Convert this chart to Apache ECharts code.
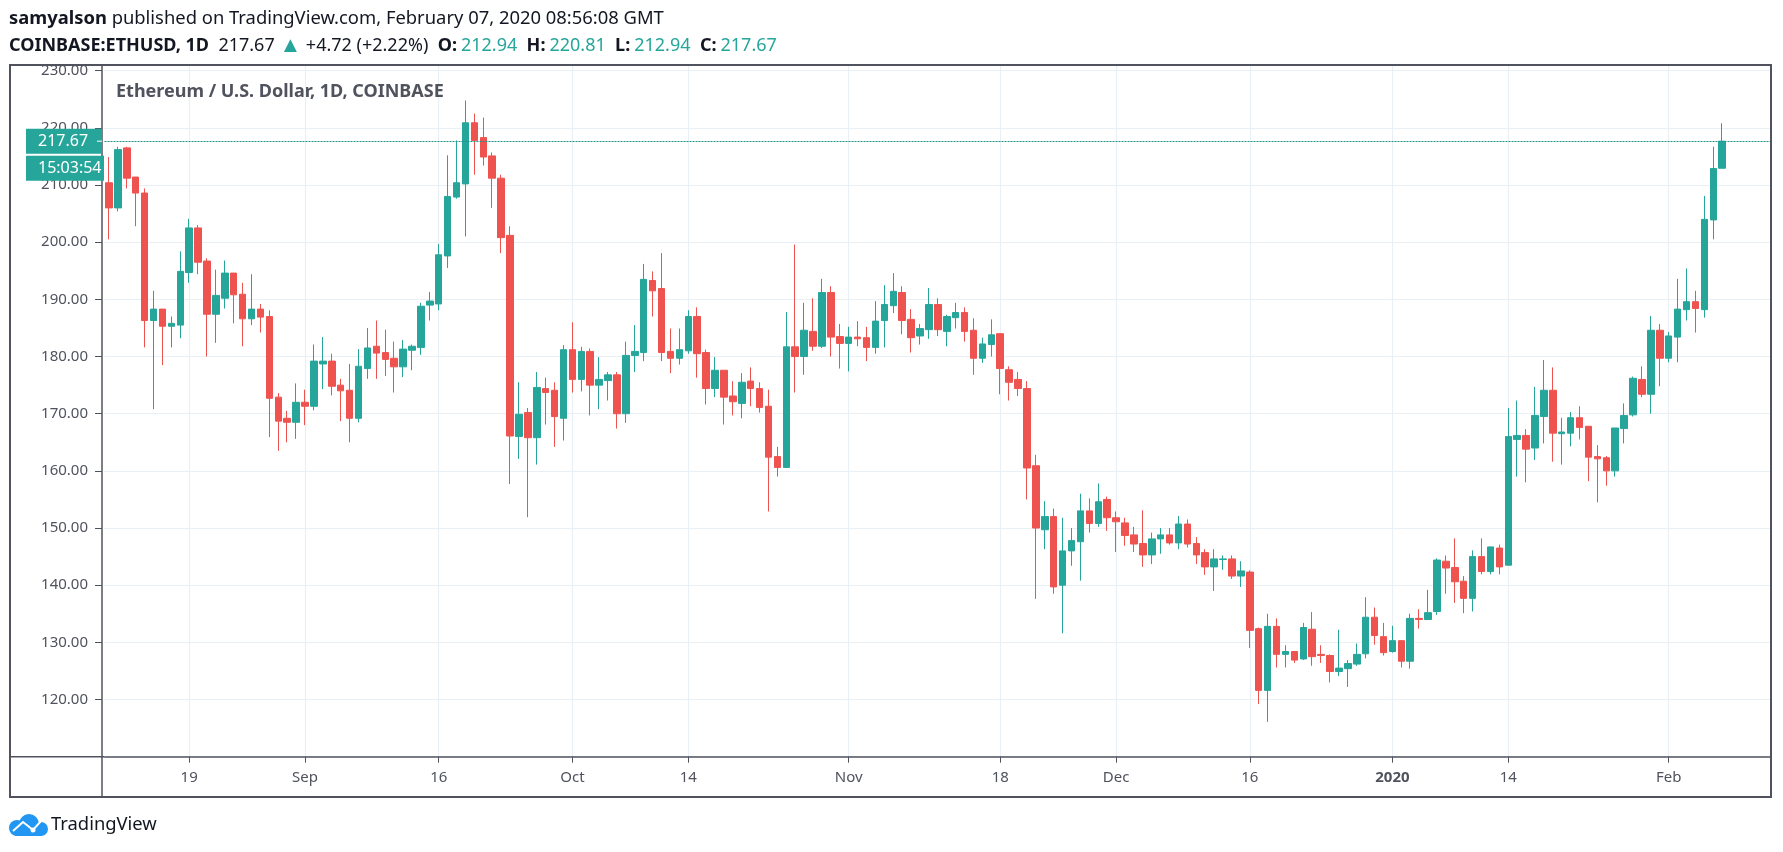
<!DOCTYPE html>
<html>
<head>
<meta charset="utf-8">
<title>ETHUSD</title>
<style>
  html, body { margin: 0; padding: 0; background: #fff; }
  #main { width: 1783px; height: 852px; }
</style>
<script src="https://cdn.jsdelivr.net/npm/echarts@6/dist/echarts.min.js"></script>
</head>
<body>
<div id="main"></div>
<script>
// daily candles, 2019-08-10 to 2020-02-07
var firstDay = '2019-08-10';
var opens = [
  210.4,206.0,216.5,211.4,208.6,186.3,188.3,185.3,185.5,194.7,
  202.5,196.7,187.4,190.2,194.6,190.9,186.6,188.3,187.0,172.9,
  169.2,168.5,172.0,171.3,178.7,179.2,175.0,174.1,169.2,177.9,
  181.8,180.7,179.7,178.2,181.1,181.6,189.0,189.2,197.6,207.9,
  210.2,220.9,218.3,215.1,211.2,201.2,166.0,170.2,165.8,174.4,
  174.1,169.2,181.2,176.0,180.9,175.0,175.8,176.8,170.0,180.2,
  180.7,193.3,191.9,180.9,179.7,181.0,187.0,180.7,174.4,177.6,
  173.1,171.8,175.7,174.4,171.3,162.5,160.6,181.7,180.0,184.4,
  181.8,191.2,183.5,182.3,183.4,183.3,181.6,186.3,188.9,191.2,
  186.5,183.6,184.7,189.1,184.4,186.8,187.7,184.6,179.7,182.1,
  184.0,177.7,176.0,174.4,160.9,149.7,152.0,140.0,146.0,147.6,
  153.0,150.8,155.0,151.8,150.9,148.8,147.3,145.3,148.1,148.8,
  147.4,150.7,147.3,145.7,143.2,144.5,144.6,141.6,142.3,132.4,
  121.6,132.8,127.9,128.4,127.1,132.3,127.9,127.7,124.9,125.4,
  126.2,128.0,134.4,131.0,128.4,130.3,126.7,134.2,134.0,135.4,
  144.2,143.1,140.7,137.7,145.0,142.4,146.5,143.5,165.5,166.2,
  164.0,169.5,174.1,166.5,166.6,169.3,167.8,162.5,162.3,160.0,
  167.4,169.8,176.0,173.4,184.6,179.7,183.4,188.2,189.6,188.2,
  203.9,212.94
];
var closes = [
  206.0,216.2,211.2,208.6,186.3,188.3,185.3,185.8,194.9,202.5,
  196.5,187.4,190.7,194.6,190.8,186.6,188.3,186.9,172.7,168.7,
  168.5,172.0,171.3,179.2,179.2,174.8,174.0,169.2,178.3,181.5,
  180.6,179.5,178.2,181.3,181.8,188.8,189.7,197.8,208.0,210.4,
  220.9,217.8,214.9,211.2,200.8,166.1,169.9,165.8,174.6,173.7,
  169.5,181.2,176.0,180.9,175.0,176.0,176.8,170.0,180.2,180.9,
  193.5,191.5,180.7,179.7,181.2,187.0,180.5,174.4,177.6,172.9,
  172.1,175.5,174.4,171.1,162.4,160.6,181.7,180.0,184.6,181.8,
  191.2,183.4,182.3,183.4,183.1,181.6,186.2,189.1,191.4,186.3,
  183.3,184.9,189.1,184.7,187.0,187.7,184.4,179.7,182.2,183.8,
  177.9,175.5,174.4,160.5,150.0,152.0,139.7,146.0,147.8,153.0,
  150.8,154.6,151.8,151.1,148.7,147.2,145.3,148.1,148.8,147.4,
  150.7,147.2,145.3,143.2,144.6,144.6,141.6,142.5,132.1,121.6,
  132.8,127.9,128.4,126.9,132.6,127.5,127.7,124.9,125.5,126.3,
  127.9,134.4,131.2,128.2,130.3,126.7,134.2,134.0,135.2,144.4,
  143.0,140.6,137.7,145.0,142.4,146.7,143.2,166.0,166.2,163.8,
  169.7,174.1,166.6,166.8,169.3,167.6,162.4,162.1,160.0,167.5,
  169.7,176.2,173.4,184.6,179.7,183.6,188.3,189.6,188.4,204.0,
  212.9,217.67
];
var lows = [
  200.5,205.4,209.4,202.8,181.6,170.8,178.5,181.6,183.2,192.9,
  194.4,180.0,182.4,188.4,185.8,181.8,185.5,184.2,165.9,163.5,
  165.0,165.6,168.0,170.6,174.3,173.2,168.7,165.0,168.5,176.1,
  176.1,176.6,173.7,176.4,177.6,180.3,186.3,188.1,195.5,207.6,
  201.0,211.8,213.4,206.0,198.1,157.7,162.1,151.9,161.1,168.1,
  164.2,165.3,173.7,173.9,169.7,170.8,172.3,167.4,168.4,177.3,
  179.2,187.0,179.2,177.1,178.6,180.5,176.3,171.6,172.9,168.1,
  169.7,169.2,171.3,170.2,152.9,159.0,160.6,173.7,176.8,181.0,
  181.5,180.0,177.9,177.4,181.8,179.2,180.5,181.6,187.6,183.9,
  180.7,182.1,183.1,183.6,181.8,184.9,182.6,176.8,178.9,180.0,
  173.4,172.3,173.1,155.0,137.6,146.3,138.5,131.6,143.4,140.8,
  149.2,150.2,149.5,145.8,146.9,145.8,143.2,143.7,145.5,147.1,
  146.3,146.6,143.7,141.8,139.0,142.7,141.1,139.7,129.0,119.2,
  116.1,125.6,125.6,126.4,126.9,125.9,126.4,123.0,124.1,122.2,
  125.9,127.2,129.6,127.7,128.2,125.6,125.4,132.4,134.0,134.8,
  138.5,136.9,135.1,135.4,141.9,141.9,141.9,143.5,159.0,158.0,
  161.9,164.8,161.6,161.1,164.3,165.5,158.2,154.5,157.4,159.0,
  164.8,169.5,172.9,170.0,174.8,179.0,179.0,186.3,184.2,186.8,
  200.5,212.94
];
var highs = [
  214.9,216.7,216.7,211.4,209.4,191.5,188.3,187.0,198.4,204.1,
  203.0,197.2,195.2,196.8,194.6,192.9,194.4,189.2,188.1,173.6,
  170.5,175.3,174.2,182.1,183.4,180.5,176.1,178.7,181.3,185.0,
  186.3,184.7,182.6,182.9,182.1,189.4,191.3,199.7,215.2,217.8,
  224.8,222.5,221.8,215.7,211.8,202.8,175.5,171.0,177.3,176.3,
  175.5,182.0,186.0,181.7,181.4,179.9,177.3,177.3,182.6,185.5,
  196.2,194.9,198.1,184.9,184.9,188.1,188.6,181.2,179.9,177.6,
  175.7,177.1,178.1,175.5,174.2,164.2,187.8,199.6,189.4,190.2,
  193.6,192.3,185.7,185.2,186.2,185.2,189.7,192.5,194.6,192.3,
  188.3,185.7,192.0,190.2,187.3,189.4,188.6,186.7,183.3,186.5,
  184.0,178.3,177.3,175.7,162.8,154.7,153.4,151.8,150.0,156.0,
  155.2,157.8,155.5,152.9,151.8,150.2,153.1,149.2,150.0,150.0,
  152.1,151.5,148.4,146.3,146.3,145.2,145.2,144.2,142.6,132.6,
  135.0,134.2,129.5,128.4,133.4,135.3,129.5,127.9,132.2,126.9,
  129.8,137.9,136.1,133.4,132.9,130.3,135.0,135.8,139.2,144.7,
  145.2,148.2,141.6,146.1,148.2,146.7,147.1,171.0,172.3,167.3,
  174.7,179.4,178.1,169.3,170.3,171.3,167.8,164.5,162.6,167.5,
  171.8,176.5,178.3,187.1,185.7,184.3,193.6,195.4,191.5,208.1,
  216.7,220.81
];
var lastPrice = 217.67;
var countdown = '15:03:54';
var tickDays = ['2019-08-19','2019-09-01','2019-09-16','2019-10-01','2019-10-14','2019-11-01','2019-11-18','2019-12-01','2019-12-16','2020-01-01','2020-01-14','2020-02-01'];
var tickLabels = ['19','Sep','16','Oct','14','Nov','18','Dec','16','{b|2020}','14','Feb'];

// category days, five empty ones after the last candle like on the real chart
var emptyDays = 5;
var dates = [];
for (var d = 0; d < opens.length + emptyDays; d++) {
  var t = new Date(firstDay + 'T00:00:00Z');
  t.setUTCDate(t.getUTCDate() + d);
  dates.push(t.toISOString().slice(0, 10));
}
var candles = opens.map(function (o, i) {
  return [o, closes[i], lows[i], highs[i]];
});

var UP = '#26a69a', DOWN = '#ef5350', INK = '#50535e', GRID = '#e8f0f6', FONT = '"Noto Sans", sans-serif';

function isTickDay(i) {
  return tickDays.indexOf(dates[i]) >= 0;
}

var myChart = echarts.init(document.getElementById('main'));
var option = {
  animation: false,
  backgroundColor: '#fff',
  textStyle: { fontFamily: FONT },
  title: [
    {
      text: '{b|samyalson} published on TradingView.com, February 07, 2020 08:56:08 GMT',
      left: 9, top: 10, padding: 0,
      textStyle: {
        fontFamily: FONT, fontSize: 18.4, fontWeight: 'normal', color: '#131722',
        rich: { b: { fontFamily: FONT, fontSize: 18.4, fontWeight: 'bold', color: '#131722' } }
      }
    },
    {
      text: '{b|COINBASE:ETHUSD, 1D}  217.67 {t|▲} +4.72 (+2.22%)  {l|O:}{g|212.94}  {l|H:}{g|220.81}  {l|L:}{g|212.94}  {l|C:}{g|217.67}',
      left: 9, top: 35, padding: 0,
      textStyle: {
        fontFamily: FONT, fontSize: 18, fontWeight: 'normal', color: '#131722',
        rich: {
          b: { fontFamily: FONT, fontSize: 18, fontWeight: 'bold', color: '#131722' },
          l: { fontFamily: FONT, fontSize: 18, fontWeight: 'bold', color: '#131722', padding: [0, 4, 0, 0] },
          g: { fontFamily: FONT, fontSize: 18, color: UP },
          t: { fontFamily: FONT, fontSize: 22, color: UP }
        }
      }
    },
    {
      text: 'Ethereum / U.S. Dollar, 1D, COINBASE',
      left: 116, top: 83, padding: 0,
      textStyle: { fontFamily: FONT, fontSize: 18, fontWeight: 'bold', color: INK }
    },
    {
      text: 'TradingView',
      left: 51, top: 816, padding: 0,
      textStyle: { fontFamily: FONT, fontSize: 18.4, fontWeight: 'normal', color: '#131722' }
    }
  ],
  grid: { left: 104.5, top: 65, width: 1666.7, height: 691.7, containLabel: false },
  xAxis: {
    type: 'category',
    data: dates,
    boundaryGap: true,
    axisLine: { lineStyle: { color: INK, width: 1.5 } },
    axisTick: { show: true, length: 6, alignWithLabel: true, interval: function (i) { return isTickDay(i); }, lineStyle: { color: INK } },
    axisLabel: {
      interval: function (i) { return isTickDay(i); },
      formatter: function (v) { return tickLabels[tickDays.indexOf(v)] || ''; },
      color: INK, fontSize: 15, margin: 14, fontFamily: FONT,
      rich: { b: { fontWeight: 'bold', fontSize: 15, color: INK, fontFamily: FONT } }
    },
    splitLine: { show: true, alignWithLabel: true, interval: function (i) { return isTickDay(i); }, lineStyle: { color: GRID, width: 1.2 } }
  },
  yAxis: {
    type: 'value',
    min: 110, max: 231, interval: 10,
    offset: 2.5,
    axisLine: { show: true, lineStyle: { color: INK, width: 1.5 } },
    axisTick: { show: true, length: 7, lineStyle: { color: INK } },
    axisLabel: {
      color: INK, fontSize: 15, margin: 14, fontFamily: FONT,
      showMinLabel: false, showMaxLabel: false,
      formatter: function (v) { return v.toFixed(2); }
    },
    splitLine: { show: true, lineStyle: { color: GRID, width: 1.2 } }
  },
  series: [{
    type: 'candlestick',
    data: candles,
    barWidth: 7,
    itemStyle: { color: UP, color0: DOWN, borderColor: UP, borderColor0: DOWN, borderWidth: 1 },
    markLine: {
      silent: true,
      symbol: 'none',
      label: { show: false },
      lineStyle: { color: '#1a9488', type: [2, 1], width: 1.2 },
      data: [{ yAxis: lastPrice }]
    }
  }]
};
myChart.setOption(option);

// frame, price boxes and logo sit around the plot, price box follows the y scale
var priceY = myChart.convertToPixel({ yAxisIndex: 0 }, lastPrice);
myChart.setOption({
  graphic: [
    { type: 'rect', z: 20, shape: { x: 10, y: 65, width: 1761, height: 732 }, style: { fill: 'none', stroke: INK, lineWidth: 2 } },
    { type: 'line', z: 20, shape: { x1: 10, y1: 756.7, x2: 104, y2: 756.7 }, style: { stroke: INK, lineWidth: 1.5 } },
    { type: 'line', z: 20, shape: { x1: 102, y1: 756, x2: 102, y2: 797 }, style: { stroke: INK, lineWidth: 1.5 } },
    { type: 'rect', z: 21, shape: { x: 26, y: priceY - 12.5, width: 76, height: 25 }, style: { fill: UP } },
    { type: 'line', z: 22, shape: { x1: 97, y1: priceY, x2: 102, y2: priceY }, style: { stroke: '#fff', lineWidth: 1 } },
    { type: 'text', z: 22, style: { x: 38, y: priceY, text: lastPrice.toFixed(2), fill: '#fff', font: '16px ' + FONT, verticalAlign: 'middle' } },
    { type: 'rect', z: 21, shape: { x: 26, y: priceY + 14.5, width: 78, height: 25 }, style: { fill: UP } },
    { type: 'text', z: 22, style: { x: 38, y: priceY + 27, text: countdown, fill: '#fff', font: '16px ' + FONT, verticalAlign: 'middle' } },
    // TradingView cloud
    { type: 'circle', z: 20, shape: { cx: 17, cy: 828, r: 8 }, style: { fill: '#2196f3' } },
    { type: 'circle', z: 20, shape: { cx: 29, cy: 824, r: 10 }, style: { fill: '#2196f3' } },
    { type: 'circle', z: 20, shape: { cx: 41, cy: 829, r: 7 }, style: { fill: '#2196f3' } },
    { type: 'rect', z: 20, shape: { x: 15, y: 828, width: 27, height: 8 }, style: { fill: '#2196f3' } },
    { type: 'polyline', z: 21, shape: { points: [[13, 831], [23, 822], [33, 830], [42, 820]] }, style: { fill: 'none', stroke: '#fff', lineWidth: 2 } },
    { type: 'circle', z: 21, shape: { cx: 33, cy: 830, r: 2.5 }, style: { fill: '#fff' } }
  ]
});
</script>
</body>
</html>
